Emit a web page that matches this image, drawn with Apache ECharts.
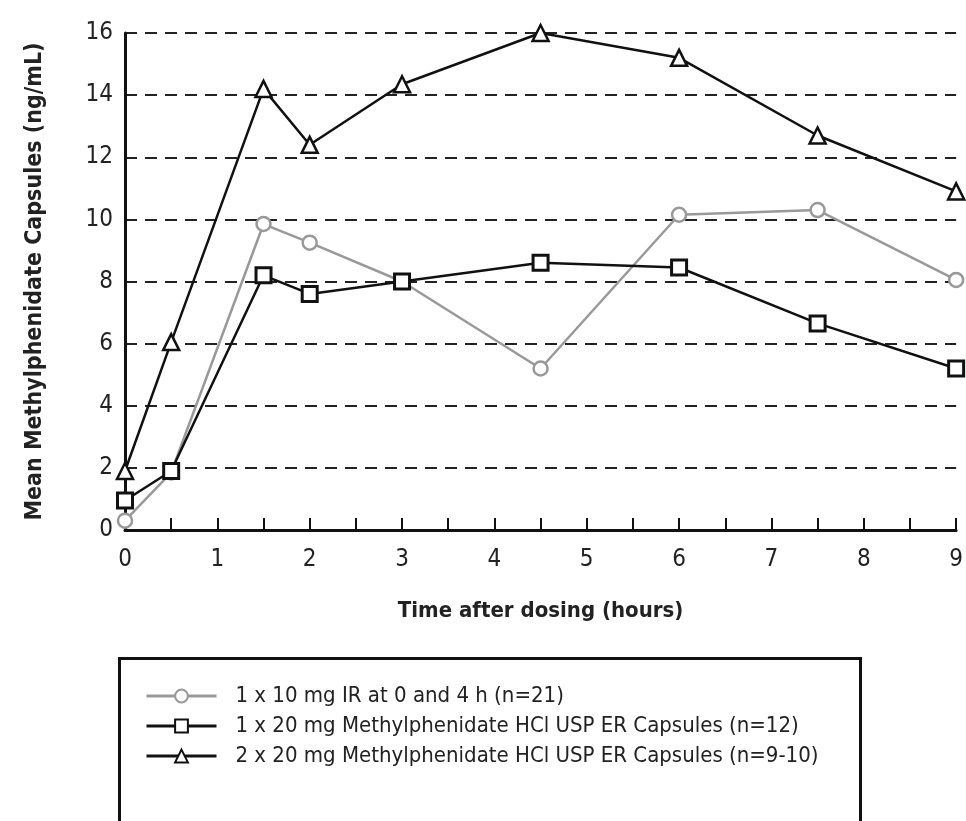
<!DOCTYPE html>
<html>
<head>
<meta charset="utf-8">
<script src="https://cdn.jsdelivr.net/npm/echarts@6/dist/echarts.min.js"></script>
<style>
html,body{margin:0;padding:0;background:#fff;}
#c{width:966px;height:821px;}
</style>
</head>
<body>
<div id="c"></div>
<script>
var hours = [0, 0.5, 1.5, 2, 3, 4.5, 6, 7.5, 9];
var irValues = [0.3, 1.85, 9.85, 9.25, 8.0, 5.2, 10.15, 10.3, 8.05];
var er20Values = [0.95, 1.9, 8.2, 7.6, 8.0, 8.6, 8.45, 6.65, 5.2];
var er40Values = [1.9, 6.05, 14.2, 12.4, 14.35, 16.0, 15.2, 12.7, 10.9];
var seriesNames = [
  '1 x 10 mg IR at 0 and 4 h (n=21)',
  '1 x 20 mg Methylphenidate HCl USP ER Capsules (n=12)',
  '2 x 20 mg Methylphenidate HCl USP ER Capsules (n=9-10)'
];

function pairs(xs, ys){ return xs.map(function(x,i){ return [x, ys[i]]; }); }

var FONT = '"Liberation Sans Narrow", "DejaVu Sans Condensed", "Open Sans", sans-serif';
var chart = echarts.init(document.getElementById('c'), null, {renderer:'canvas'});
chart.setOption({
  backgroundColor: '#fff',
  animation: false,
  textStyle: {fontFamily: FONT, color: '#222'},
  grid: {left: 125, right: 7, top: 33, bottom: 291, containLabel: false},
  xAxis: {
    type: 'value', min: 0, max: 9, interval: 0.5,
    name: 'Time after dosing (hours)', nameLocation: 'middle', nameGap: 70,
    nameTextStyle: {fontFamily: FONT, fontWeight: 'bold', fontSize: 22, color: '#222'},
    axisLine: {onZero: false, lineStyle: {color: '#111', width: 3}},
    axisTick: {show: true, inside: true, length: 12, lineStyle: {color: '#111', width: 2}},
    axisLabel: {fontFamily: FONT, fontSize: 24, color: '#222', margin: 18,
      formatter: function(v){ return (Math.abs(v - Math.round(v)) < 1e-6) ? String(Math.round(v)) : ''; }},
    splitLine: {show: false}
  },
  yAxis: {
    type: 'value', min: 0, max: 16, interval: 2,
    name: 'Mean Methylphenidate Capsules (ng/mL)', nameLocation: 'middle', nameGap: 78,
    nameTextStyle: {fontFamily: FONT, fontWeight: 'bold', fontSize: 23, color: '#222'},
    axisLine: {show: true, lineStyle: {color: '#111', width: 3}},
    axisTick: {show: false},
    axisLabel: {fontFamily: FONT, fontSize: 24, color: '#222', margin: 12},
    splitLine: {show: true, lineStyle: {color: '#222', width: 2, type: [12, 8]}}
  },
  legend: {
    orient: 'vertical', left: 140, top: 680, itemGap: 8,
    itemWidth: 70, itemHeight: 16,
    lineStyle: {width: 3},
    textStyle: {fontFamily: FONT, fontSize: 22, color: '#222', padding: [0,0,0,14]},
    data: seriesNames
  },
  graphic: [{
    type: 'rect', left: 117, top: 656, z: 0,
    shape: {width: 741, height: 200},
    style: {fill: 'none', stroke: '#111', lineWidth: 3}
  }],
  series: [
    {
      name: seriesNames[0], type: 'line', data: pairs(hours, irValues),
      symbol: 'circle', symbolSize: 14,
      lineStyle: {color: '#999', width: 2.5},
      itemStyle: {color: '#fff', borderColor: '#999', borderWidth: 2.5},
      z: 3
    },
    {
      name: seriesNames[1], type: 'line', data: pairs(hours, er20Values),
      symbol: 'rect', symbolSize: 15,
      lineStyle: {color: '#111', width: 2.5},
      itemStyle: {color: '#fff', borderColor: '#111', borderWidth: 3},
      z: 4
    },
    {
      name: seriesNames[2], type: 'line', data: pairs(hours, er40Values),
      symbol: 'triangle', symbolSize: 16,
      lineStyle: {color: '#111', width: 2.5},
      itemStyle: {color: '#fff', borderColor: '#111', borderWidth: 2.5},
      z: 5
    }
  ]
});
</script>
</body>
</html>
